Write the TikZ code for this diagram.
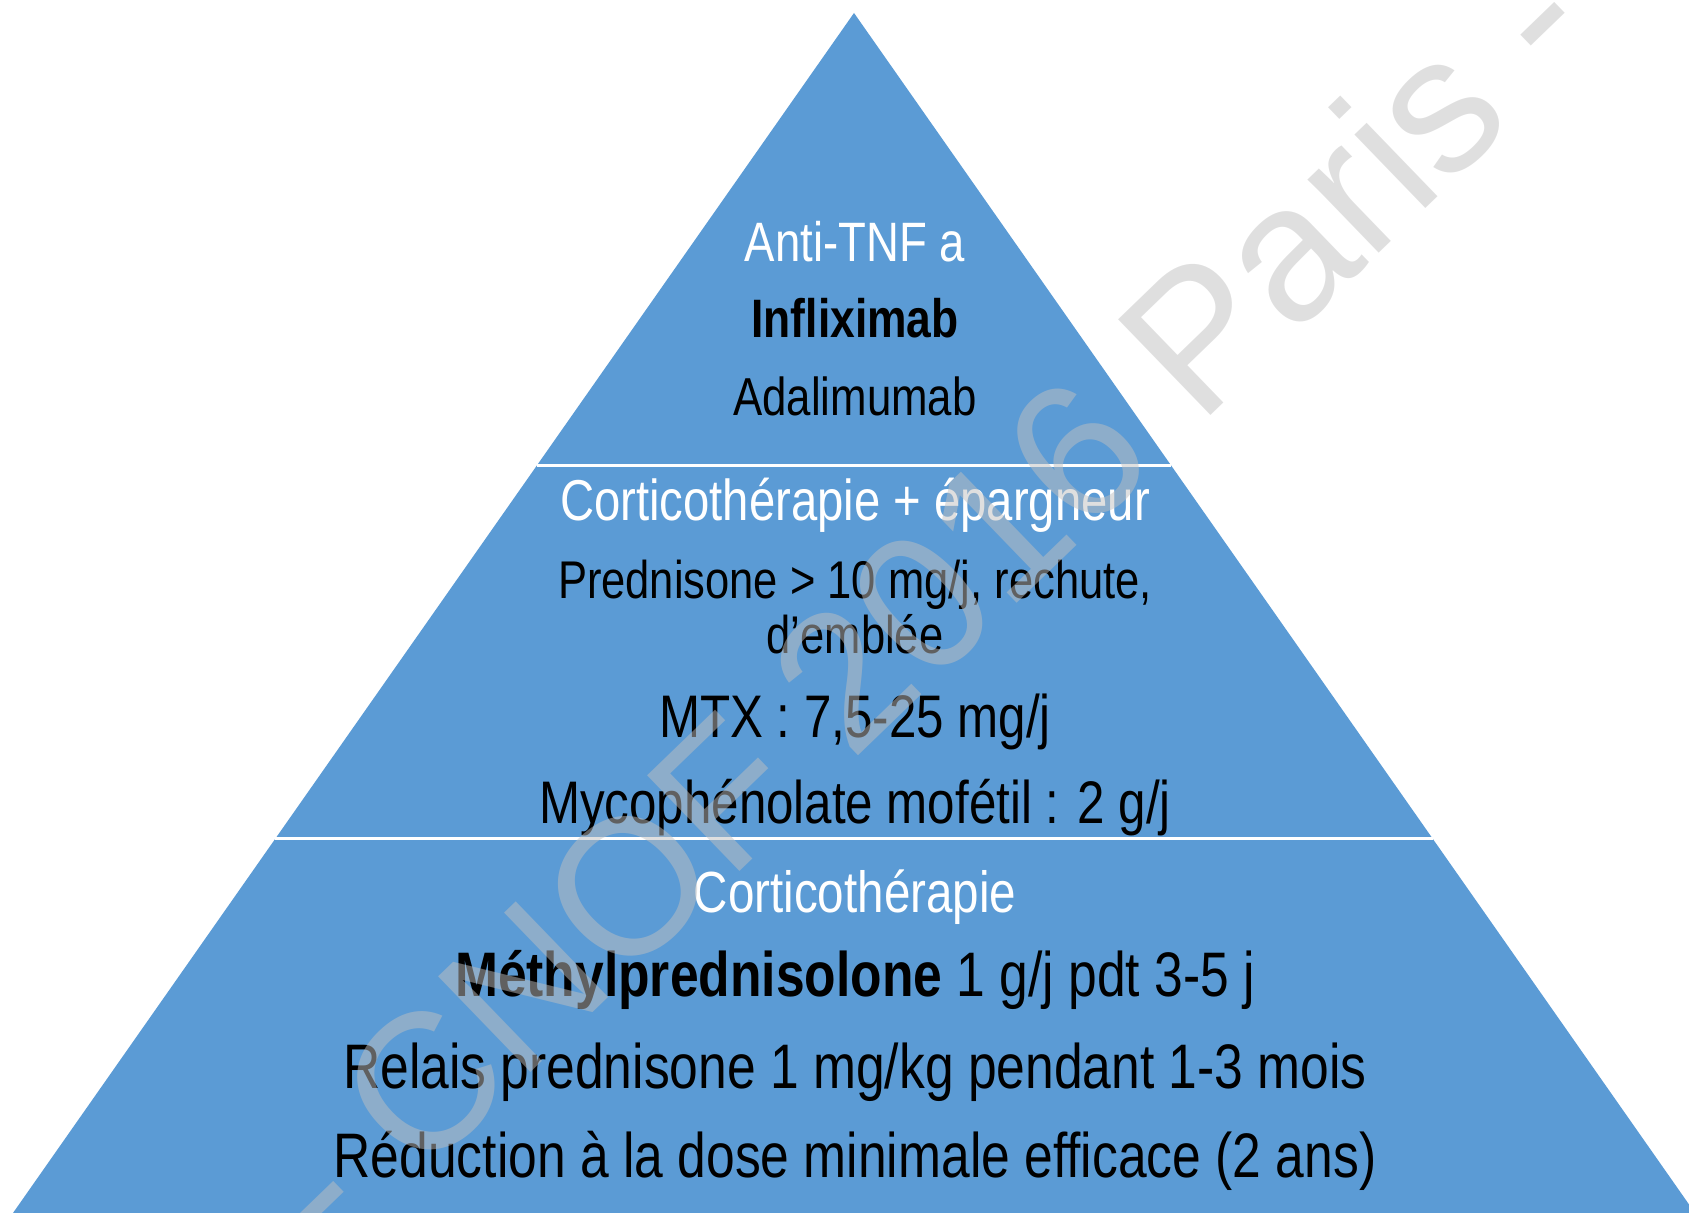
\documentclass[tikz,border=0pt]{standalone}
\usepackage{fontspec}
\setmainfont{Liberation Sans}[FakeStretch=0.82]
\newfontfamily\wmfont{Liberation Sans}
\usetikzlibrary{calc}
\definecolor{pyrblue}{HTML}{5B9BD5}
\definecolor{wmgray}{RGB}{192,192,192}

\begin{document}
\begin{tikzpicture}
  \tikzset{wt/.style={anchor=base,text=white,inner sep=0pt},
           bt/.style={anchor=base,text=black,inner sep=0pt}};
  \useasboundingbox (0,0) rectangle (16.89,12.13);
  \clip (0,0) rectangle (16.89,12.13);
  % pyramid
  \coordinate (A) at (8.54,12.00);
  \coordinate (L) at (0.13,0);
  \coordinate (R) at (16.95,0);
  \fill[pyrblue] (A) -- (L) -- (R) -- cycle;
  \coordinate (s1l) at ($(A)!0.3767!(L)$);
  \coordinate (s1r) at ($(A)!0.3767!(R)$);
  \coordinate (s2l) at ($(A)!0.6883!(L)$);
  \coordinate (s2r) at ($(A)!0.6883!(R)$);
  \draw[white,line width=0.03cm] (s1l) -- (s1r);
  \draw[white,line width=0.03cm] (s2l) -- (s2r);
  % top
  \node[wt,font=\fontsize{15.8}{18}\selectfont] (tnf) at (8.55,9.51) {Anti-TNF a};
  \node[bt,font=\fontsize{15.4}{18}\selectfont\bfseries] (ifx) at (8.55,8.75) {Infliximab};
  \node[bt,font=\fontsize{15.2}{18}\selectfont] (ada) at (8.55,7.97) {Adalimumab};
  % middle
  \node[wt,font=\fontsize{16.4}{19}\selectfont] (epa) at (8.55,6.92) {Corticothérapie + épargneur};
  \node[bt,font=\fontsize{15.1}{18}\selectfont] (pred) at (8.55,6.14) {Prednisone > 10 mg/j, rechute,};
  \node[bt,font=\fontsize{15.1}{18}\selectfont] (emb) at (8.55,5.59) {d’emblée};
  \node[bt,font=\fontsize{17.1}{20}\selectfont] (mtx) at (8.55,4.75) {MTX : 7,5-25 mg/j};
  \node[bt,font=\fontsize{17.1}{20}\selectfont] (mmf) at (8.55,3.89) {Mycophénolate mofétil : 2 g/j};
  % bottom
  \node[wt,font=\fontsize{16.5}{19}\selectfont] (cort) at (8.55,3.00) {Corticothérapie};
  \node[bt,font=\fontsize{17.9}{21}\selectfont] (mp) at (8.55,2.16) {\textbf{Méthylprednisolone} 1 g/j pdt 3-5 j};
  \node[bt,font=\fontsize{17.9}{21}\selectfont] (rel) at (8.55,1.24) {Relais prednisone 1 mg/kg pendant 1-3 mois};
  \node[bt,font=\fontsize{17.9}{21}\selectfont] (red) at (8.55,0.35) {Réduction à la dose minimale efficace (2 ans)};
  % watermark
  \node[text=wmgray,opacity=0.5,rotate=44,inner sep=0pt,font=\wmfont\fontsize{55}{60}\selectfont] (wm) at (9.20,6.12) {- CNOF 2016 Paris -};
\end{tikzpicture}
\end{document}
